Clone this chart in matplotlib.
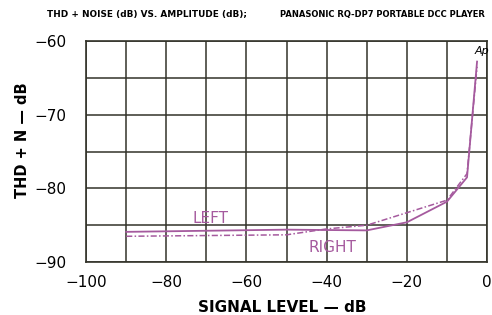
import matplotlib
matplotlib.use("Agg")
import matplotlib.pyplot as plt

# signal level (dB) and THD+N (dB)
left_x = [-90, -50, -30, -20, -10, -5, -2.5]
left_y = [-85.9, -85.6, -85.7, -84.6, -81.8, -78.5, -62.8]
right_x = [-90, -50, -40, -30, -20, -10, -5, -2.5]
right_y = [-86.5, -86.3, -85.5, -85.0, -83.3, -81.6, -78.0, -63.5]

xticks = [-100, -80, -60, -40, -20, 0]
yticks = [-60, -70, -80, -90]

purple = "#a55a9e"
gridc = "#33332a"


def fmt(v):
    return "\u2212%d" % -v if v < 0 else "%d" % v


fig = plt.figure(figsize=(4.92, 3.15), dpi=100)
ax = fig.add_axes([0.175, 0.168, 0.815, 0.702])

ax.plot(left_x, left_y, color=purple, lw=1.3)
ax.plot(right_x, right_y, color=purple, lw=1.1, ls=(0, (4, 1.5, 1, 1.5)))

ax.set_xlim(-100, 0)
ax.set_ylim(-90, -60)
ax.set_xticks(range(-100, 1, 10))
ax.set_yticks(range(-90, -59, 5))
ax.grid(True, color=gridc, lw=1.1)
ax.tick_params(length=0, labelsize=11)
ax.tick_params(axis="x", pad=9)
ax.tick_params(axis="y", pad=14)
ax.set_xticklabels([fmt(v) if v in xticks else "" for v in range(-100, 1, 10)])
ax.set_yticklabels([fmt(v) if v in yticks else "" for v in range(-90, -59, 5)])
for s in ax.spines.values():
    s.set_color(gridc)
    s.set_linewidth(1.2)

ax.text(-69, -84.1, "LEFT", color=purple, fontsize=11, ha="center", va="center")
ax.text(-38.5, -88.0, "RIGHT", color=purple, fontsize=11, ha="center", va="center")
ax.text(-1.3, -61.3, "Ap", fontsize=8, style="italic", ha="center", va="center")

fig.text(0.573, 0.025, "SIGNAL LEVEL \u2014 dB", fontsize=11, fontweight="bold", ha="center", va="center")
fig.text(0.045, 0.555, "THD + N \u2014 dB", fontsize=10.5, fontweight="bold", ha="center", va="center", rotation=90)

fig.text(0.095, 0.955, "THD + NOISE (dB) VS. AMPLITUDE (dB);", fontsize=6.4, fontweight="bold", va="center")
fig.text(0.986, 0.955, "PANASONIC RQ-DP7 PORTABLE DCC PLAYER", fontsize=6.0, fontweight="bold", ha="right", va="center")

fig.savefig("out.png", dpi=100)
